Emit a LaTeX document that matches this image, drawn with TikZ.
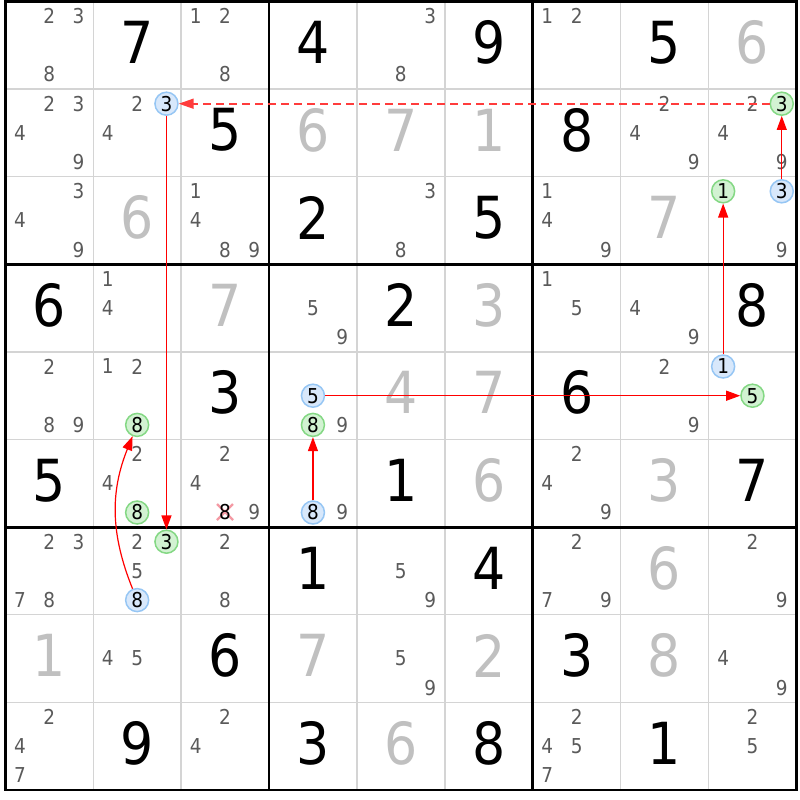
\documentclass[tikz,border=0pt]{standalone}
\usepackage{fontspec}
\setmainfont{DejaVu Sans}[FakeStretch=0.9]
\usetikzlibrary{arrows.meta}
\definecolor{candgray}{HTML}{5A5A5A}
\definecolor{solvedgray}{HTML}{C0C0C0}
\definecolor{gridgray}{HTML}{D4D4D4}
\definecolor{bluefill}{HTML}{D8E8FB}
\definecolor{bluebord}{HTML}{96C6F4}
\definecolor{greenfill}{HTML}{D2F2D2}
\definecolor{greenbord}{HTML}{84D884}
\definecolor{xpink}{HTML}{F49AA4}
\definecolor{linkred}{HTML}{FF0000}
\definecolor{dashred}{HTML}{FF3C3C}
\begin{document}
\begin{tikzpicture}[x=1pt,y=-1pt,
  cand/.style={inner sep=0pt,text=candgray,font=\fontsize{20.5}{21}\selectfont},
  given/.style={inner sep=0pt,text=black,font=\fontsize{58}{60}\selectfont},
  solved/.style={given,text=solvedgray},
  thinline/.style={gridgray,line width=1.4pt},
  thickline/.style={black,line width=2.8pt,line cap=rect},
  markc/.style={circle,inner sep=0pt,minimum size=23pt,line width=1.5pt,text=black,font=\fontsize{20.5}{21}\selectfont},
  bluec/.style={markc,draw=bluebord,fill=bluefill},
  greenc/.style={markc,draw=greenbord,fill=greenfill},
  link/.style={linkred,line width=1.2pt,-{Triangle[length=14pt,width=10pt]}},
  dashlink/.style={dashred,line width=1.6pt,dash pattern=on 8pt off 5pt,-{Triangle[length=15pt,width=10pt]}},
]
\def\XO{5.3}\def\YO{1.5}\def\CW{87.9}\def\CH{87.6}
\useasboundingbox (0,0) rectangle (800,800);
\fill[white] (0,0) rectangle (800,800);
% grid
\foreach \i in {1,2,4,5,7,8}{
  \draw[thinline] ({\XO+\i*\CW},\YO) -- ({\XO+\i*\CW},{\YO+9*\CH});
  \draw[thinline] (\XO,{\YO+\i*\CH}) -- ({\XO+9*\CW},{\YO+\i*\CH});
}
\foreach \i in {0,3,6,9}{
  \draw[thickline] ({\XO+\i*\CW},\YO) -- ({\XO+\i*\CW},{\YO+9*\CH});
  \draw[thickline] (\XO,{\YO+\i*\CH}) -- ({\XO+9*\CW},{\YO+\i*\CH});
}
% givens
\foreach \r/\c/\v in {1/2/7,1/4/4,1/6/9,1/8/5,2/3/5,2/7/8,3/4/2,3/6/5,4/1/6,4/5/2,4/9/8,5/3/3,5/7/6,6/1/5,6/5/1,6/9/7,7/4/1,7/6/4,8/3/6,8/7/3,9/2/9,9/4/3,9/6/8,9/8/1}
  \node[given] (g\r\c) at ({\XO+(\c-0.5)*\CW},{\YO+(\r-0.5)*\CH-3}) {\v};
% solved (gray)
\foreach \r/\c/\v in {1/9/6,2/4/6,2/5/7,2/6/1,3/2/6,3/8/7,4/3/7,4/6/3,5/5/4,5/6/7,6/6/6,6/8/3,7/8/6,8/1/1,8/4/7,8/6/2,8/8/8,9/5/6}
  \node[solved] (s\r\c) at ({\XO+(\c-0.5)*\CW},{\YO+(\r-0.5)*\CH-3}) {\v};
% eliminated candidate mark
\draw[xpink,line width=2.2pt] (217,504) -- (233,520) (233,504) -- (217,520);
\node[inner sep=0pt,text=black,font=\fontsize{20.5}{21}\selectfont] (k638) at ({\XO+2.5*\CW},{\YO+5.5*\CH+\CH/3}) {8};
% candidates
\foreach \r/\c/\ds in {1/1/{2,3,8},1/3/{1,2,8},1/5/{3,8},1/7/{1,2},
  2/1/{2,3,4,9},2/2/{2,4},2/8/{2,4,9},2/9/{2,4,9},
  3/1/{3,4,9},3/3/{1,4,8,9},3/5/{3,8},3/7/{1,4,9},3/9/{9},
  4/2/{1,4},4/4/{5,9},4/7/{1,5},4/8/{4,9},
  5/1/{2,8,9},5/2/{1,2},5/4/{9},5/8/{2,9},
  6/2/{2,4},6/3/{2,4,9},6/4/{9},6/7/{2,4,9},
  7/1/{2,3,7,8},7/2/{2,5},7/3/{2,8},7/5/{5,9},7/7/{2,7,9},7/9/{2,9},
  8/2/{4,5},8/5/{5,9},8/9/{4,9},
  9/1/{2,4,7},9/3/{2,4},9/7/{2,4,5,7},9/9/{2,5}}{
  \foreach \d in \ds {
    \node[cand] (k\r\c\d) at ({\XO+(\c-0.5)*\CW+(mod(\d-1,3)-1)*\CW/3},{\YO+(\r-0.5)*\CH+(floor((\d-1)/3)-1)*\CH/3}) {\d};
  }
}
% marked candidates
\foreach \r/\c/\d in {2/2/3,3/9/3,5/9/1,5/4/5,6/4/8,7/2/8}
  \node[bluec] (b\r\c\d) at ({\XO+(\c-0.5)*\CW+(mod(\d-1,3)-1)*\CW/3},{\YO+(\r-0.5)*\CH+(floor((\d-1)/3)-1)*\CH/3}) {\d};
\foreach \r/\c/\d in {2/9/3,3/9/1,5/9/5,5/4/8,5/2/8,6/2/8,7/2/3}
  \node[greenc] (gc\r\c\d) at ({\XO+(\c-0.5)*\CW+(mod(\d-1,3)-1)*\CW/3},{\YO+(\r-0.5)*\CH+(floor((\d-1)/3)-1)*\CH/3}) {\d};
% links
\draw[dashlink] (gc293) -- (b223);
\draw[link] (b393) -- (gc293);
\draw[link] (b591) -- (gc391);
\draw[link] (b545) -- (gc595);
\draw[link] (b648) -- (gc548);
\draw[link] (b223) -- (gc723);
\draw[link] (b728) to[bend left=22] (gc528);
\end{tikzpicture}
\end{document}
